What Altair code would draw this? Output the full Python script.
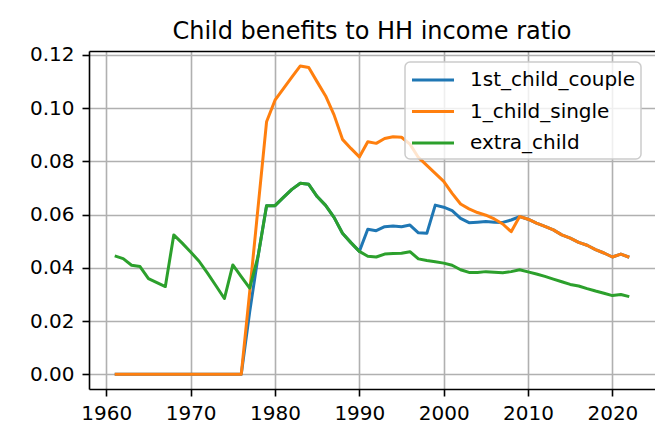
import altair as alt
import pandas as pd

years = list(range(1961, 2023))

first_child_couple = [
    0, 0, 0, 0, 0, 0, 0, 0, 0, 0, 0, 0, 0, 0, 0, 0,
    0.0235, 0.0445, 0.0634, 0.0634, 0.0665, 0.0695, 0.0718, 0.0714, 0.0668, 0.0635, 0.0590, 0.0530, 0.0495, 0.0462,
    0.0545, 0.0540, 0.0555, 0.0557, 0.0555, 0.0561, 0.0532, 0.0530, 0.0636, 0.0628,
    0.0615, 0.0586, 0.0570, 0.0572, 0.0574, 0.0572, 0.0571, 0.0580, 0.0593, 0.0583,
    0.0568, 0.0556, 0.0543, 0.0524, 0.0512, 0.0496, 0.0485, 0.0469, 0.0456, 0.0441,
    0.0452, 0.0440,
]

one_child_single = [
    0, 0, 0, 0, 0, 0, 0, 0, 0, 0, 0, 0, 0, 0, 0, 0,
    0.0310, 0.0630, 0.0949, 0.1030, 0.1074, 0.1117, 0.1159, 0.1153, 0.1099, 0.1046, 0.0975, 0.0883, 0.0849, 0.0817,
    0.0874, 0.0868, 0.0886, 0.0893, 0.0891, 0.0865, 0.0815, 0.0785, 0.0755, 0.0725,
    0.0680, 0.0640, 0.0622, 0.0608, 0.0598, 0.0584, 0.0565, 0.0536, 0.0593, 0.0583,
    0.0568, 0.0556, 0.0543, 0.0524, 0.0512, 0.0496, 0.0485, 0.0469, 0.0456, 0.0441,
    0.0452, 0.0440,
]

extra_child = [
    0.0445, 0.0435, 0.0410, 0.0405, 0.0360, 0.0345, 0.0330, 0.0524, 0.0493, 0.0460,
    0.0425, 0.0380, 0.0333, 0.0285, 0.0411, 0.0367, 0.0324, 0.0445, 0.0634, 0.0634,
    0.0665, 0.0695, 0.0718, 0.0714, 0.0668, 0.0635, 0.0590, 0.0530, 0.0495, 0.0462,
    0.0444, 0.0441, 0.0452, 0.0454, 0.0455, 0.0461, 0.0434, 0.0428, 0.0423, 0.0418,
    0.0410, 0.0393, 0.0383, 0.0383, 0.0386, 0.0384, 0.0382, 0.0386, 0.0393, 0.0385,
    0.0377, 0.0368, 0.0358, 0.0348, 0.0338, 0.0332, 0.0322, 0.0313, 0.0305, 0.0296,
    0.0300, 0.0292,
]

series_names = ["1st_child_couple", "1_child_single", "extra_child"]
series_colors = ["#1f77b4", "#ff7f0e", "#2ca02c"]
x_ticks = [1960, 1970, 1980, 1990, 2000, 2010, 2020]
y_ticks = [0.00, 0.02, 0.04, 0.06, 0.08, 0.10, 0.12]

rows = []
for name, vals in zip(series_names, [first_child_couple, one_child_single, extra_child]):
    for yr, v in zip(years, vals):
        rows.append({"year": yr, "value": v, "series": name})
df = pd.DataFrame(rows)

FONT = "DejaVu Sans"

color = alt.Color(
    "series:N",
    scale=alt.Scale(domain=series_names, range=series_colors),
    legend=alt.Legend(
        title=None,
        orient="none",
        legendX=316,
        legendY=11,
        symbolType="M-2,0L2,0",
        symbolSize=441,
        symbolStrokeWidth=3,
        symbolOffset=10,
        labelOffset=25,
        labelFontSize=20,
        labelFont=FONT,
        labelColor="#000000",
        labelLimit=0,
        rowPadding=9.5,
        padding=6,
        fillColor="rgba(255,255,255,0.8)",
        strokeColor="#cccccc",
        cornerRadius=5,
    ),
)

x_scale = alt.Scale(domain=[1957.95, 2025.05], nice=False, zero=False)
y_scale = alt.Scale(domain=[-0.0055, 0.1215], nice=False, zero=False)

x_bottom = alt.X(
    "year:Q",
    scale=x_scale,
    axis=alt.Axis(values=x_ticks, format="d", title=None, labelPadding=7,
                  domain=True, domainColor="#000000", domainWidth=1.6),
)
x_top = alt.X(
    "year:Q",
    scale=x_scale,
    axis=alt.Axis(orient="top", title=None, labels=False, ticks=False, grid=False,
                  domain=True, domainColor="#000000", domainWidth=1.6),
)
x_none = alt.X("year:Q", scale=x_scale, axis=None)
y = alt.Y(
    "value:Q",
    scale=y_scale,
    axis=alt.Axis(values=y_ticks, format=".2f", title=None, labelPadding=8,
                  domain=True, domainColor="#000000", domainWidth=1.6),
)

base = alt.Chart(df)
x_encs = [x_bottom, x_top, x_none]
layers = [
    base.transform_filter(alt.datum.series == s)
    .mark_line(strokeWidth=3, strokeJoin="round")
    .encode(x=xe, y=y, color=color)
    for s, xe in zip(series_names, x_encs)
]

chart = (
    alt.layer(*layers)
    .resolve_axis(x="independent")
    .properties(
        width=566,
        height=338,
        title=alt.Title(
            "Child benefits to HH income ratio",
            fontSize=24,
            font=FONT,
            fontWeight="normal",
            color="#000000",
            anchor="middle",
            frame="group",
            offset=1,
        ),
        autosize=alt.AutoSizeParams(type="none"),
        padding={"left": 89, "top": 51, "right": 0, "bottom": 43},
        background="white",
    )
    .configure_view(stroke=None)
    .configure_axis(
        grid=True,
        gridColor="#b0b0b0",
        gridWidth=1.6,
        tickColor="#000000",
        tickWidth=1.6,
        tickSize=7,
        labelFont=FONT,
        labelFontSize=20,
        labelColor="#000000",
    )
    .configure_legend(strokeWidth=1.5)
)

chart.save("out.html", embed_options={"renderer": "svg", "actions": False})
